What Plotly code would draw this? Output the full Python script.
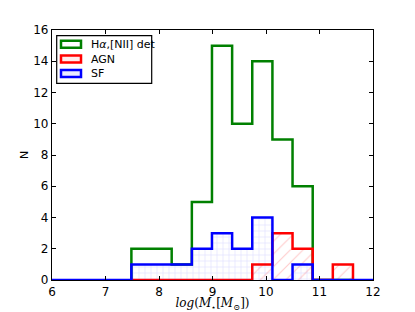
import plotly.graph_objects as go

# ---- data ----
bin_edges = [7.484, 7.861, 8.237, 8.614, 8.990, 9.367, 9.743, 10.120, 10.496, 10.873, 11.249, 11.626]
counts_ha = [2, 2, 1, 5, 15, 10, 14, 9, 6, 0, 0]
counts_agn = [0, 0, 0, 0, 0, 0, 1, 3, 2, 0, 1]
counts_sf = [1, 1, 1, 2, 3, 2, 4, 0, 1, 0, 0]
x_range = [6, 12]
y_range = [0, 16]
legend_labels = ["H<i>α</i>,[NII] det", "AGN", "SF"]
colors = ["#008000", "#FF0000", "#0000FF"]

W, H = 415, 312
ML, MR, MT, MB = 52, 42, 30, 32
PW, PH = W - ML - MR, H - MT - MB


def px(xp):
    return (xp - ML) / PW


def py(yp):
    return (H - MB - yp) / PH


def step_xy(edges, counts, extend=False):
    xs = list(edges)
    ys = list(counts) + [counts[-1]]
    if extend:
        xs = [x_range[0]] + xs + [x_range[1]]
        ys = [0] + list(counts) + [0, 0]
    else:
        xs = [edges[0]] + xs
        ys = [0] + ys
        xs = xs + [edges[-1]]
        ys = ys[:-1] + [counts[-1], 0]
    return xs, ys


fig = go.Figure()

# green (no fill)
x, y = step_xy(bin_edges, counts_ha)
fig.add_trace(go.Scatter(x=x, y=y, mode="lines", line=dict(color=colors[0], width=2.5, shape="hv"),
                         showlegend=False, hoverinfo="skip"))
# red hatched
x, y = step_xy(bin_edges, counts_agn)
fig.add_trace(go.Scatter(x=x, y=y, mode="lines", line=dict(color=colors[1], width=2.5, shape="hv"),
                         fill="tozeroy", fillcolor="rgba(0,0,0,0)",
                         fillpattern=dict(shape="/", fgcolor="rgba(255,0,0,0.4)", bgcolor="rgba(0,0,0,0)",
                                          size=9, solidity=0.12),
                         showlegend=False, hoverinfo="skip"))
# blue grid hatched
x, y = step_xy(bin_edges, counts_sf, extend=True)
fig.add_trace(go.Scatter(x=x, y=y, mode="lines", line=dict(color=colors[2], width=2.5, shape="hv"),
                         fill="tozeroy", fillcolor="rgba(0,0,0,0)",
                         fillpattern=dict(shape="+", fgcolor="rgba(0,0,255,0.32)", bgcolor="rgba(0,0,0,0)",
                                          size=6, solidity=0.15),
                         showlegend=False, hoverinfo="skip"))

axis_common = dict(showline=True, linecolor="black", linewidth=1.2, mirror="ticks",
                   ticks="inside", ticklen=4, tickwidth=1, tickcolor="black",
                   showgrid=False, zeroline=False, automargin=False,
                   tickfont=dict(family="DejaVu Sans", size=12, color="black"))

fig.update_xaxes(range=x_range, dtick=1, tick0=6, **axis_common,
                 title=dict(text="<i>log</i>(<i>M</i><sub>⋆</sub>[<i>M</i><sub>⊙</sub>])",
                            font=dict(family="DejaVu Serif", size=12, color="black"), standoff=0))
fig.update_yaxes(range=y_range, dtick=2, tick0=0, **axis_common,
                 title=dict(text="N", font=dict(family="DejaVu Sans", size=11, color="black"), standoff=2))

# manual legend
shapes = [dict(type="rect", xref="paper", yref="paper", x0=px(56.7), x1=px(151.7), y0=py(83.3), y1=py(35.7),
               line=dict(color="black", width=1.2), fillcolor="white", layer="above")]
fills = ["white", "rgba(255,0,0,0.08)", "rgba(0,0,255,0.08)"]
rows = [44.3, 59.0, 73.5]
annotations = []
for lab, col, fc, r in zip(legend_labels, colors, fills, rows):
    shapes.append(dict(type="rect", xref="paper", yref="paper", x0=px(61), x1=px(81), y0=py(r + 3.5), y1=py(r - 3.5),
                       line=dict(color=col, width=2.5), fillcolor=fc, layer="above"))
    annotations.append(dict(text=lab, xref="paper", yref="paper", x=px(89), y=py(r), xanchor="left",
                            yanchor="middle", showarrow=False,
                            font=dict(family="DejaVu Sans", size=11, color="black")))

fig.update_layout(width=W, height=H, margin=dict(l=ML, r=MR, t=MT, b=MB),
                  paper_bgcolor="white", plot_bgcolor="white",
                  shapes=shapes, annotations=annotations, showlegend=False)

fig.write_html("out.html", config={"displayModeBar": False},
               post_script="document.body.style.margin='0';document.body.style.padding='0';")
